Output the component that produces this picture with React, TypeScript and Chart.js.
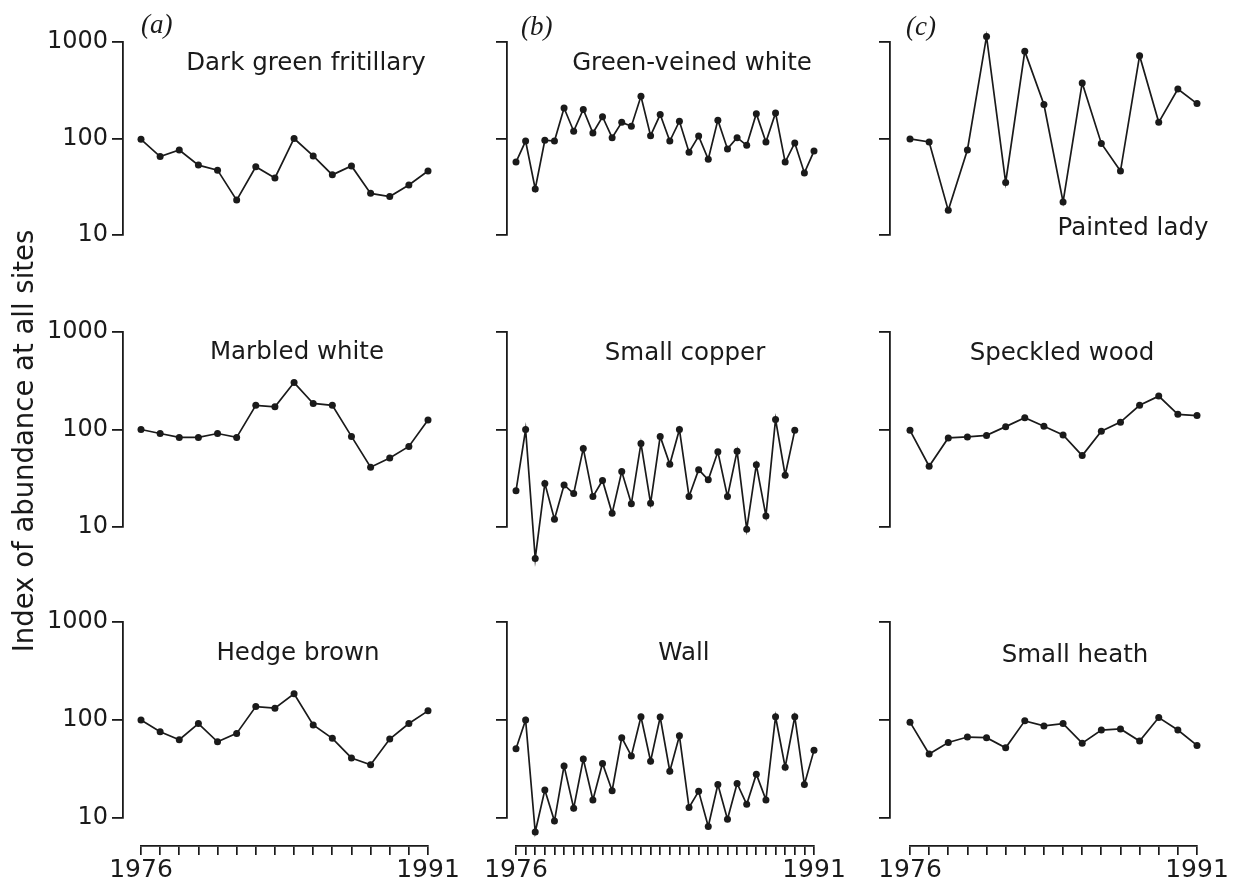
import React, { useEffect, useRef } from 'react';
import { Chart, registerables } from 'chart.js';

Chart.register(...registerables);

// ---------- categories & tick labels ----------
const years = ['1976', '1977', '1978', '1979', '1980', '1981', '1982', '1983', '1984', '1985', '1986', '1987', '1988', '1989', '1990', '1991'];
const generations = [
  '1976 I', '1976 II', '1977 I', '1977 II', '1978 I', '1978 II', '1979 I', '1979 II',
  '1980 I', '1980 II', '1981 I', '1981 II', '1982 I', '1982 II', '1983 I', '1983 II',
  '1984 I', '1984 II', '1985 I', '1985 II', '1986 I', '1986 II', '1987 I', '1987 II',
  '1988 I', '1988 II', '1989 I', '1989 II', '1990 I', '1990 II', '1991 I', '1991 II',
];
const yTickValues = [10, 100, 1000];
const xEndLabels = ['1976', '1991'];

// ---------- series values (index of abundance) ----------
const darkGreenFritillary = [98, 65, 76, 53, 47, 23, 51, 39, 100, 66, 42, 52, 27, 25, 33, 46];
const greenVeinedWhite = [57, 94, 30, 96, 94, 207, 119, 200, 114, 168, 102, 147, 134, 274, 107, 177, 94, 151, 72, 106, 61, 155, 78, 102, 85, 181, 92, 184, 57, 90, 44, 74];
const paintedLady = [99, 92, 18, 76, 1143, 35, 800, 225, 22, 377, 89, 46, 721, 147, 326, 230];
const marbledWhite = [100, 91, 83, 83, 91, 83, 177, 171, 303, 185, 177, 85, 41, 51, 67, 125];
const smallCopper = [23.5, 100, 4.75, 28, 12, 27, 22, 64, 20.5, 30, 13.8, 37, 17.3, 72, 17.5, 85, 44, 100, 20.5, 38.7, 30.5, 59, 20.5, 60, 9.5, 43.5, 13, 127, 34, 98];
const speckledWood = [98, 42, 82, 84, 87, 107, 132, 108, 88, 54, 96, 119, 177, 220, 143, 139];
const hedgeBrown = [100, 76, 63, 92, 60, 73, 137, 132, 185, 89, 65, 41, 35, 64, 92, 124];
const wall = [51, 100, 7.2, 19.3, 9.3, 34, 12.6, 40, 15.3, 36, 19, 66, 43, 108, 38, 107, 30, 69, 12.8, 18.7, 8.2, 22, 9.7, 22.5, 13.8, 28, 15.3, 108, 33, 108, 22, 49];
const smallHeath = [95, 45, 59, 67, 66, 52, 98, 87, 92, 58, 79, 81, 61, 106, 79, 55];

const yAxisTitle = 'Index of abundance at all sites';
const panelLetters = ['(a)', '(b)', '(c)'];

// ---------- layout / style ----------
const INK = '#1a1a1a';
const FONT = "'DejaVu Sans', 'Noto Sans', sans-serif";

const cols = [
  { canvasLeft: 0, canvasWidth: 470, axisX: 123, first: 141, last: 428, showLabels: true },
  { canvasLeft: 470, canvasWidth: 390, axisX: 507, first: 516, last: 814, showLabels: false },
  { canvasLeft: 860, canvasWidth: 374, axisX: 890, first: 910, last: 1197, showLabels: false },
];
const rows = [
  { canvasTop: 0, canvasHeight: 290, top: 42, bottom: 235, xAxis: false, rulerY: 0 },
  { canvasTop: 290, canvasHeight: 290, top: 332, bottom: 527, xAxis: false, rulerY: 0 },
  { canvasTop: 580, canvasHeight: 312, top: 622, bottom: 818, xAxis: true, rulerY: 846 },
];

type Panel = {
  title: string;
  labels: string[];
  values: number[];
  col: number;
  row: number;
  titleX: number;
  titleTop: number;
};

const panels: Panel[] = [
  { title: 'Dark green fritillary', labels: years, values: darkGreenFritillary, col: 0, row: 0, titleX: 306, titleTop: 50 },
  { title: 'Green-veined white', labels: generations, values: greenVeinedWhite, col: 1, row: 0, titleX: 692, titleTop: 50 },
  { title: 'Painted lady', labels: years, values: paintedLady, col: 2, row: 0, titleX: 1133, titleTop: 215 },
  { title: 'Marbled white', labels: years, values: marbledWhite, col: 0, row: 1, titleX: 297, titleTop: 339 },
  { title: 'Small copper', labels: generations, values: smallCopper, col: 1, row: 1, titleX: 685, titleTop: 340 },
  { title: 'Speckled wood', labels: years, values: speckledWood, col: 2, row: 1, titleX: 1062, titleTop: 340 },
  { title: 'Hedge brown', labels: years, values: hedgeBrown, col: 0, row: 2, titleX: 298, titleTop: 640 },
  { title: 'Wall', labels: generations, values: wall, col: 1, row: 2, titleX: 684, titleTop: 640 },
  { title: 'Small heath', labels: years, values: smallHeath, col: 2, row: 2, titleX: 1075, titleTop: 642 },
];

const letterPos = [
  { left: 141, top: 11 },
  { left: 521, top: 13 },
  { left: 906, top: 13 },
];

// Lets the library draw points that fall outside the 10–1000 axis range
// (the axes span only the decades, the marks may overshoot them).
const unclippedPoints = {
  id: 'unclippedPoints',
  beforeDatasetDraw(chart: any) {
    chart.$savedArea = chart.chartArea;
    chart.chartArea = { left: 0, top: 0, right: chart.width, bottom: chart.height, width: chart.width, height: chart.height };
  },
  afterDatasetDraw(chart: any) {
    if (chart.$savedArea) chart.chartArea = chart.$savedArea;
  },
};

function PanelChart({ panel }: { panel: Panel }) {
  const ref = useRef<HTMLCanvasElement>(null);
  const c = cols[panel.col];
  const r = rows[panel.row];

  useEffect(() => {
    if (!ref.current) return;
    const yW = c.axisX - c.canvasLeft;
    const gapX = c.first - c.axisX;
    const padRight = c.canvasLeft + c.canvasWidth - c.last;
    const padTop = r.top - r.canvasTop;
    const canvasBottom = r.canvasTop + r.canvasHeight;
    const padBottom = r.xAxis ? 0 : canvasBottom - r.bottom;

    const scales: any = {
      x: {
        type: 'category',
        axis: 'x',
        position: 'bottom',
        weight: 1,
        display: r.xAxis,
        offset: false,
        grid: { display: true, drawOnChartArea: false, drawTicks: true, tickLength: 9, color: INK, lineWidth: 1.7, offset: false },
        border: { display: true, color: INK, width: 1.8 },
        ticks: {
          autoSkip: false,
          maxRotation: 0,
          minRotation: 0,
          padding: 0,
          color: INK,
          font: { family: FONT, size: 25 },
          callback: (_v: any, i: number, t: any[]) => (i === 0 ? xEndLabels[0] : i === t.length - 1 ? xEndLabels[1] : ''),
        },
        afterFit: (s: any) => {
          s.height = r.xAxis ? canvasBottom - r.rulerY : 0;
          s.paddingLeft = 0;
          s.paddingRight = 0;
        },
      },
      y: {
        type: 'logarithmic',
        axis: 'y',
        position: 'left',
        weight: 1,
        min: 10,
        max: 1000,
        afterBuildTicks: (s: any) => {
          s.ticks = yTickValues.map((v) => ({ value: v }));
        },
        grid: { display: true, drawOnChartArea: false, drawTicks: true, tickLength: 11, color: INK, lineWidth: 1.8 },
        border: { display: true, color: INK, width: 1.8 },
        ticks: {
          padding: 4,
          color: INK,
          font: { family: FONT, size: 24 },
          callback: (v: any) => (c.showLabels ? String(v) : ''),
        },
        afterFit: (s: any) => {
          s.width = yW;
          s.paddingTop = 0;
          s.paddingBottom = 0;
        },
      },
      ySpacer: {
        type: 'linear',
        axis: 'y',
        position: 'left',
        weight: 0,
        display: true,
        grid: { display: false },
        border: { display: false },
        ticks: { display: false },
        afterFit: (s: any) => {
          s.width = gapX;
          s.paddingTop = 0;
          s.paddingBottom = 0;
        },
      },
    };
    if (r.xAxis) {
      scales.xSpacer = {
        type: 'linear',
        axis: 'x',
        position: 'bottom',
        weight: 0,
        display: true,
        grid: { display: false },
        border: { display: false },
        ticks: { display: false },
        afterFit: (s: any) => {
          s.height = r.rulerY - r.bottom;
          s.paddingLeft = 0;
          s.paddingRight = 0;
        },
      };
    }

    const chart = new Chart(ref.current, {
      type: 'line',
      data: {
        labels: panel.labels,
        datasets: [
          {
            data: panel.values,
            xAxisID: 'x',
            yAxisID: 'y',
            borderColor: INK,
            borderWidth: 1.7,
            pointRadius: 3.5,
            pointBackgroundColor: INK,
            pointBorderWidth: 0,
            tension: 0,
            fill: false,
            clip: false as any,
          },
        ],
      },
      options: {
        responsive: false,
        animation: false,
        events: [],
        layout: { padding: { left: 0, top: padTop, right: padRight, bottom: padBottom } },
        plugins: { legend: { display: false }, tooltip: { enabled: false }, title: { display: false } },
        scales,
      } as any,
      plugins: [unclippedPoints],
    });
    return () => chart.destroy();
  }, [panel]);

  return (
    <canvas
      ref={ref}
      width={c.canvasWidth}
      height={r.canvasHeight}
      style={{ position: 'absolute', left: c.canvasLeft, top: r.canvasTop, width: c.canvasWidth, height: r.canvasHeight }}
    />
  );
}

export default function App() {
  return (
    <div style={{ position: 'absolute', left: 0, top: 0, width: 1234, height: 892, background: '#ffffff', overflow: 'hidden' }}>
      {panels.map((p, i) => (
        <PanelChart key={i} panel={p} />
      ))}
      {panels.map((p, i) => (
        <div
          key={'t' + i}
          style={{
            position: 'absolute',
            left: p.titleX - 200,
            top: p.titleTop,
            width: 400,
            textAlign: 'center',
            fontFamily: FONT,
            fontSize: 24.5,
            lineHeight: '24.5px',
            color: INK,
            whiteSpace: 'nowrap',
          }}
        >
          {p.title}
        </div>
      ))}
      {panelLetters.map((l, i) => (
        <div
          key={'l' + i}
          style={{
            position: 'absolute',
            left: letterPos[i].left,
            top: letterPos[i].top,
            fontFamily: "'Liberation Serif', 'DejaVu Serif', serif",
            fontStyle: 'italic',
            fontSize: 27,
            lineHeight: '27px',
            color: INK,
            whiteSpace: 'nowrap',
          }}
        >
          {l}
        </div>
      ))}
      <div
        style={{
          position: 'absolute',
          left: 23 - 260,
          top: 441 - 15,
          width: 520,
          height: 30,
          lineHeight: '30px',
          textAlign: 'center',
          transform: 'rotate(-90deg)',
          fontFamily: FONT,
          fontSize: 27.5,
          color: INK,
          whiteSpace: 'nowrap',
        }}
      >
        {yAxisTitle}
      </div>
    </div>
  );
}
